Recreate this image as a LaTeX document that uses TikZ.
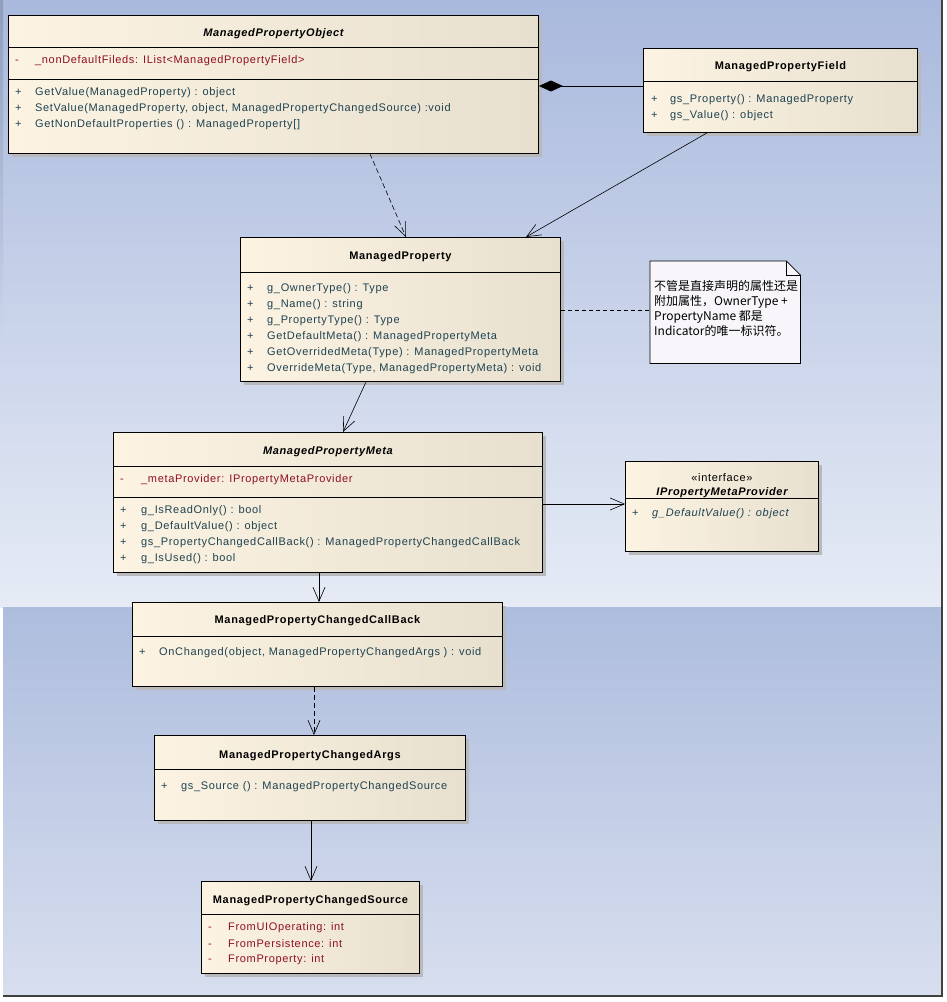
\documentclass[tikz,border=0pt]{standalone}
\usepackage{fontspec}
\setmainfont{Liberation Sans}
\newfontfamily\umlfont[LetterSpace=6]{Liberation Sans}
\newfontfamily\cjk{Noto Sans CJK SC}
\usepackage{tikz}
\usetikzlibrary{arrows.meta,positioning,shadows}
\usepackage{xcolor}
\definecolor{paneltop}{HTML}{A9B9DD}
\definecolor{panelbot}{HTML}{E6EBF5}
\definecolor{lowtop}{HTML}{AEBDDE}
\definecolor{lowbot}{HTML}{D7DEEE}
\definecolor{clsleft}{HTML}{FCF3E3}
\definecolor{clsright}{HTML}{E8E0CF}
\definecolor{shadowgray}{HTML}{B9B9BC}
\definecolor{attrred}{HTML}{8F0F1F}
\definecolor{opteal}{HTML}{1E4250}
\definecolor{notefill}{HTML}{F8F6FB}

\begin{document}
\begin{tikzpicture}[x=1pt,y=-1pt,
    cls/.style={draw, line width=0.9pt, left color=clsleft, right color=clsright, inner sep=0pt, anchor=north west,
        general shadow={fill=shadowgray, shadow xshift=4pt, shadow yshift=-4pt}},
    title/.style={inner sep=0pt, yshift=-2pt, font=\umlfont\bfseries\fontsize{11}{13}\selectfont},
    attr/.style={anchor=west, inner sep=0pt, yshift=-2pt, text=attrred, font=\umlfont\fontsize{11}{13}\selectfont},
    op/.style={anchor=west, inner sep=0pt, yshift=-2pt, text=opteal, font=\umlfont\fontsize{11}{13}\selectfont},
    sep/.style={line width=0.9pt},
    assoc/.style={draw, line width=0.6pt, -{Straight Barb[length=14pt,width=12pt,line width=0.6pt]}},
    dep/.style={assoc, dash pattern=on 5pt off 3pt},
    comp/.style={draw, line width=0.9pt, {Diamond[length=24pt,width=11pt,fill=black]}-}
]
    \useasboundingbox (0,0) rectangle (947,1002);
    % background panels
    \fill[white] (0,0) rectangle (947,1002);
    \shade[top color=paneltop, bottom color=panelbot] (0,0) rectangle (941,607);
    \shade[top color=paneltop!85!black, bottom color=paneltop!42!panelbot] (0,0) rectangle (3,350);
    \shade[top color=lowtop, bottom color=lowbot] (3,607) rectangle (941,995);
    \draw[black!75, line width=2pt] (942,0) -- (942,996) -- (3,996);

    % ManagedPropertyObject
    \node[cls, minimum width=530, minimum height=138] (obj) at (8,15) {};
    \draw[sep] (obj.west |- 0,47) -- (obj.east |- 0,47);
    \draw[sep] (obj.west |- 0,79) -- (obj.east |- 0,79);
    \node[title] (objT) at (obj.north |- 0,32) {\itshape ManagedPropertyObject};
    \node[attr] (objA1) at (15,59) {\makebox[20pt][l]{-}\_nonDefaultFileds: IList<ManagedPropertyField>};
    \node[op] (objM1) at (15,91) {\makebox[20pt][l]{+}GetValue(ManagedProperty) : object};
    \node[op] (objM2) at (15,107) {\makebox[20pt][l]{+}SetValue(ManagedProperty, object, ManagedPropertyChangedSource) :void};
    \node[op] (objM3) at (15,123) {\makebox[20pt][l]{+}GetNonDefaultProperties () : ManagedProperty[]};

    % ManagedPropertyField
    \node[cls, minimum width=274, minimum height=84] (fld) at (643,48) {};
    \draw[sep] (fld.west |- 0,81) -- (fld.east |- 0,81);
    \node[title] (fldT) at (fld.north |- 0,65) {ManagedPropertyField};
    \node[op] (fldM1) at (651,98) {\makebox[19pt][l]{+}gs\_Property() : ManagedProperty};
    \node[op] (fldM2) at (651,114) {\makebox[19pt][l]{+}gs\_Value() : object};

    % ManagedProperty
    \node[cls, minimum width=320, minimum height=144] (mp) at (240,237) {};
    \draw[sep] (mp.west |- 0,272) -- (mp.east |- 0,272);
    \node[title] (mpT) at (mp.north |- 0,255) {ManagedProperty};
    \node[op] (mpM1) at (247,287) {\makebox[20pt][l]{+}g\_OwnerType() : Type};
    \node[op] (mpM2) at (247,303) {\makebox[20pt][l]{+}g\_Name() : string};
    \node[op] (mpM3) at (247,319) {\makebox[20pt][l]{+}g\_PropertyType() : Type};
    \node[op] (mpM4) at (247,335) {\makebox[20pt][l]{+}GetDefaultMeta() : ManagedPropertyMeta};
    \node[op] (mpM5) at (247,351) {\makebox[20pt][l]{+}GetOverridedMeta(Type) : ManagedPropertyMeta};
    \node[op] (mpM6) at (247,367) {\makebox[20pt][l]{+}OverrideMeta(Type, ManagedPropertyMeta) : void};

    % note
    \node[minimum width=150, minimum height=102, inner sep=0pt, anchor=north west] (note) at (650,261) {};
    \filldraw[fill=notefill, line width=0.8pt] (note.north west) -- ([xshift=-14pt]note.north east)
        -- ([yshift=-14pt]note.north east) -- (note.south east) -- (note.south west) -- cycle;
    \draw[line width=0.8pt] ([xshift=-14pt]note.north east) -- ([xshift=-14pt,yshift=-14pt]note.north east)
        -- ([yshift=-14pt]note.north east);
    \node[anchor=north west, inner sep=0pt, align=left, font=\cjk\fontsize{12}{15}\selectfont] (noteT) at (654,280)
        {不管是直接声明的属性还是\\附加属性，OwnerType +\\PropertyName 都是\\Indicator的唯一标识符。};

    % ManagedPropertyMeta
    \node[cls, minimum width=429, minimum height=140] (meta) at (113,432) {};
    \draw[sep] (meta.west |- 0,466) -- (meta.east |- 0,466);
    \draw[sep] (meta.west |- 0,497) -- (meta.east |- 0,497);
    \node[title] (metaT) at (meta.north |- 0,450) {\itshape ManagedPropertyMeta};
    \node[attr] (metaA1) at (120,478) {\makebox[21pt][l]{-}\_metaProvider: IPropertyMetaProvider};
    \node[op] (metaM1) at (120,509) {\makebox[21pt][l]{+}g\_IsReadOnly() : bool};
    \node[op] (metaM2) at (120,525) {\makebox[21pt][l]{+}g\_DefaultValue() : object};
    \node[op] (metaM3) at (120,541) {\makebox[21pt][l]{+}gs\_PropertyChangedCallBack() : ManagedPropertyChangedCallBack};
    \node[op] (metaM4) at (120,557) {\makebox[21pt][l]{+}g\_IsUsed() : bool};

    % IPropertyMetaProvider
    \node[cls, minimum width=193, minimum height=90] (iface) at (625,461) {};
    \draw[sep] (iface.west |- 0,498) -- (iface.east |- 0,498);
    \node[title, font=\umlfont\fontsize{11}{13}\selectfont] (ifaceS) at (iface.north |- 0,476) {«interface»};
    \node[title] (ifaceT) at (iface.north |- 0,491) {\itshape IPropertyMetaProvider};
    \node[op] (ifaceM1) at (632,512) {\makebox[20pt][l]{+}\itshape g\_DefaultValue() : object};

    % ManagedPropertyChangedCallBack
    \node[cls, minimum width=370, minimum height=84] (cb) at (132,602) {};
    \draw[sep] (cb.west |- 0,636) -- (cb.east |- 0,636);
    \node[title] (cbT) at (cb.north |- 0,619) {ManagedPropertyChangedCallBack};
    \node[op] (cbM1) at (139,651) {\makebox[20pt][l]{+}OnChanged(object, ManagedPropertyChangedArgs ) : void};

    % ManagedPropertyChangedArgs
    \node[cls, minimum width=311, minimum height=85] (args) at (154,735) {};
    \draw[sep] (args.west |- 0,769) -- (args.east |- 0,769);
    \node[title] (argsT) at (args.north |- 0,754) {ManagedPropertyChangedArgs};
    \node[op] (argsM1) at (161,785) {\makebox[20pt][l]{+}gs\_Source () : ManagedPropertyChangedSource};

    % ManagedPropertyChangedSource
    \node[cls, minimum width=218, minimum height=92] (src) at (201,881) {};
    \draw[sep] (src.west |- 0,914) -- (src.east |- 0,914);
    \node[title] (srcT) at (src.north |- 0,899) {ManagedPropertyChangedSource};
    \node[attr] (srcA1) at (208,926) {\makebox[20pt][l]{-}FromUIOperating: int};
    \node[attr] (srcA2) at (208,942) {\makebox[20pt][l]{-}FromPersistence: int};
    \node[attr] (srcA3) at (208,958) {\makebox[20pt][l]{-}FromProperty: int};

    % connectors
    \draw[comp] (obj.east |- 0,86) -- (fld.west |- 0,86);
    \draw[dep] (obj.south -| 370,0) -- (mp.north -| 406,0);
    \draw[assoc] (fld.south -| 707,0) -- (mp.north -| 526,0);
    \draw[line width=0.6pt, dash pattern=on 4pt off 3pt] (mp.east |- 0,310) -- (note.west |- 0,310);
    \draw[assoc] (mp.south -| 366,0) -- (meta.north -| 343,0);
    \draw[assoc] (meta.east |- 0,504) -- (iface.west |- 0,504);
    \draw[assoc] (meta.south -| 319,0) -- (cb.north -| 319,0);
    \draw[dep] (cb.south -| 314,0) -- (args.north -| 314,0);
    \draw[assoc] (args.south -| 311,0) -- (src.north -| 311,0);
\end{tikzpicture}
\end{document}
